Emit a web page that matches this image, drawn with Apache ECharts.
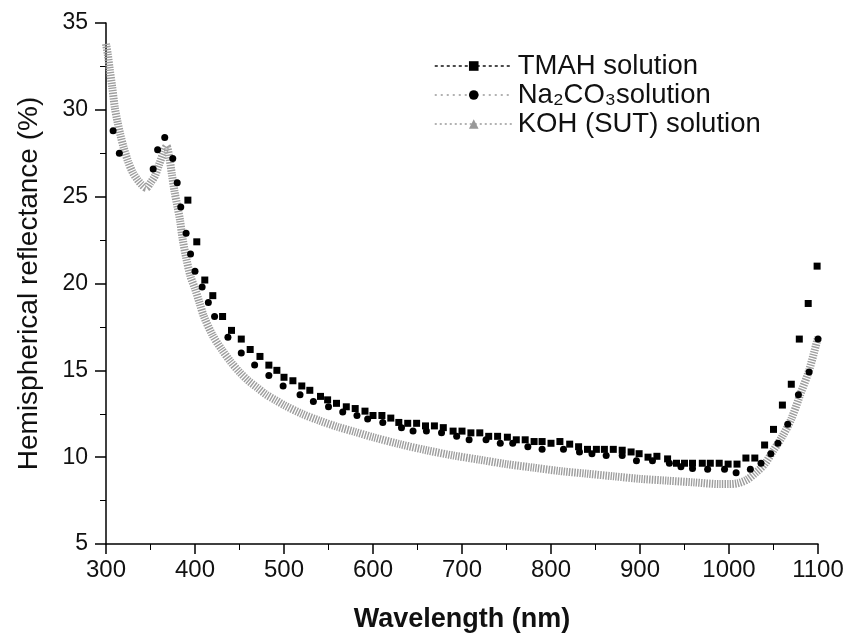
<!DOCTYPE html>
<html>
<head>
<meta charset="utf-8">
<script src="https://cdn.jsdelivr.net/npm/echarts@6/dist/echarts.min.js"></script>
<style>
  html, body { margin: 0; padding: 0; background: #fff; }
  #chart { width: 851px; height: 639px; }
</style>
</head>
<body>
<div id="chart"></div>
<script>
// Hemispherical reflectance spectra of textured wafers (wavelength in nm, reflectance in %)
const xTicks = [300, 400, 500, 600, 700, 800, 900, 1000, 1100];
const yTicks = [5, 10, 15, 20, 25, 30, 35];

// TMAH solution (black squares)
const tmahWl = [392, 402, 411, 420, 431, 441, 452, 462, 473, 483, 492, 500, 510, 520, 529, 541, 549, 559, 570, 580,
  591, 600, 610, 620, 629, 639, 649, 659, 669, 679, 690, 700, 710, 720, 730, 740, 751, 761, 771, 781,
  790, 800, 810, 821, 831, 841, 851, 860, 870, 880, 890, 899, 909, 919, 931, 941, 950, 959, 970, 979,
  989, 999, 1009, 1019, 1029, 1040, 1050, 1060, 1070, 1079, 1089, 1099];
const tmahR = [24.8, 22.4, 20.2, 19.3, 18.1, 17.3, 16.8, 16.2, 15.8, 15.3, 15.0, 14.6, 14.4, 14.1, 13.85, 13.5, 13.3, 13.1, 12.9, 12.8,
  12.65, 12.4, 12.4, 12.25, 12.0, 11.95, 11.95, 11.8, 11.8, 11.7, 11.5, 11.5, 11.4, 11.4, 11.2, 11.2, 11.15, 11.0, 11.0, 10.9,
  10.9, 10.8, 10.9, 10.75, 10.6, 10.45, 10.45, 10.45, 10.45, 10.4, 10.3, 10.2, 10.0, 10.05, 9.9, 9.65, 9.65, 9.65, 9.65, 9.65,
  9.65, 9.6, 9.6, 9.95, 9.95, 10.7, 11.6, 13.0, 14.2, 16.8, 18.85, 21.0];

// Na2CO3 solution (black circles)
const naWl = [308, 315, 353, 358, 366, 375, 380, 384, 390, 395, 400, 408, 415, 422, 437, 452, 467, 483, 499, 518,
  533, 550, 566, 582, 594, 611, 632, 645, 660, 677, 694, 708, 727, 743, 757, 774, 790, 814, 832, 846,
  862, 880, 896, 914, 933, 946, 959, 976, 995, 1008, 1024, 1036, 1047, 1055, 1066, 1078, 1090, 1100];
const naR = [28.8, 27.5, 26.6, 27.7, 28.4, 27.2, 25.8, 24.4, 22.9, 21.7, 20.7, 19.8, 18.9, 18.1, 16.9, 16.0, 15.3, 14.7, 14.1, 13.6,
  13.2, 12.9, 12.6, 12.4, 12.2, 12.0, 11.7, 11.5, 11.5, 11.4, 11.2, 11.0, 11.0, 10.8, 10.8, 10.6, 10.45, 10.45, 10.3, 10.2,
  10.1, 10.1, 9.8, 9.8, 9.65, 9.45, 9.35, 9.3, 9.3, 9.1, 9.3, 9.65, 10.2, 10.8, 11.9, 13.6, 14.9, 16.8];

// KOH (SUT) solution (dense grey triangles, drawn as a hatched band)
const kohWl = [300, 302, 304, 307, 310, 313, 316, 320, 325, 330, 335, 340, 345, 350, 355, 360, 365, 368, 371, 374,
  377, 380, 383, 386, 390, 395, 400, 405, 410, 420, 430, 440, 450, 460, 470, 480, 490, 500, 520, 540,
  560, 580, 600, 630, 660, 690, 720, 750, 780, 810, 840, 870, 900, 930, 960, 990, 1000, 1010, 1020, 1030,
  1040, 1050, 1060, 1070, 1080, 1090, 1100];
const kohR = [33.8, 33.2, 32.4, 31.3, 30.1, 29.3, 28.6, 27.8, 27.0, 26.4, 26.0, 25.7, 25.5, 25.8, 26.2, 26.9, 27.6, 27.9, 27.3, 26.3,
  25.3, 24.5, 23.7, 22.6, 21.5, 20.4, 19.7, 18.9, 18.1, 17.0, 16.2, 15.5, 14.9, 14.4, 14.0, 13.6, 13.3, 13.0, 12.5, 12.1,
  11.75, 11.45, 11.15, 10.75, 10.4, 10.1, 9.85, 9.6, 9.4, 9.2, 9.05, 8.9, 8.75, 8.65, 8.55, 8.45, 8.45, 8.5, 8.7, 9.1,
  9.6, 10.4, 11.2, 12.2, 13.6, 15.0, 16.9];

const names = ['TMAH solution', 'Na\u2082CO\u2083solution', 'KOH (SUT) solution'];

const zip = (xs, ys) => xs.map((x, i) => [x, ys[i]]);
const FONT = '"Liberation Sans", Arial, Helvetica, sans-serif';

const chart = echarts.init(document.getElementById('chart'), null, { renderer: 'canvas' });

chart.setOption({
  backgroundColor: '#ffffff',
  animation: false,
  textStyle: { fontFamily: FONT, color: '#111' },
  grid: { left: 106, right: 33, top: 23, bottom: 95, containLabel: false },
  legend: {
    orient: 'vertical',
    left: 429,
    top: 47,
    itemWidth: 78,
    itemHeight: 12,
    itemGap: 1,
    textStyle: { fontFamily: FONT, fontSize: 27.5, color: '#111' },
    data: [
      { name: names[0], lineStyle: { color: '#111', width: 1.5, type: [3, 3], opacity: 1 } },
      { name: names[1], lineStyle: { color: '#999', width: 1.5, type: [2, 4], opacity: 1 } },
      { name: names[2], lineStyle: { color: '#999', width: 1.5, type: [2, 3], opacity: 1 } }
    ]
  },
  xAxis: {
    type: 'value',
    min: 300,
    max: 1100,
    interval: 100,
    name: 'Wavelength (nm)',
    nameLocation: 'middle',
    nameGap: 62,
    nameTextStyle: { fontFamily: FONT, fontSize: 27, fontWeight: 'bold', color: '#111' },
    axisLine: { lineStyle: { color: '#000', width: 1.5 } },
    axisTick: { inside: false, length: 10, lineStyle: { color: '#000', width: 1.5 } },
    minorTick: { show: true, splitNumber: 2, length: 6, lineStyle: { color: '#000', width: 1 } },
    splitLine: { show: false },
    axisLabel: {
      fontFamily: FONT, fontSize: 24, color: '#111', margin: 14,
      customValues: xTicks,
      formatter: (v) => String(v)
    }
  },
  yAxis: {
    type: 'value',
    min: 5,
    max: 35,
    interval: 5,
    name: 'Hemispherical reflectance (%)',
    nameLocation: 'middle',
    nameGap: 63,
    nameTextStyle: { fontFamily: FONT, fontSize: 28, color: '#111' },
    axisLine: { lineStyle: { color: '#000', width: 1.5 } },
    axisTick: { inside: false, length: 11, lineStyle: { color: '#000', width: 1.5 } },
    minorTick: { show: true, splitNumber: 2, length: 6, lineStyle: { color: '#000', width: 1 } },
    splitLine: { show: false },
    axisLabel: {
      fontFamily: FONT, fontSize: 23, color: '#111', margin: 18,
      customValues: yTicks,
      formatter: (v) => String(v)
    }
  },
  series: [
    {
      name: names[2],
      type: 'line',
      data: zip(kohWl, kohR),
      symbol: 'triangle',
      symbolSize: 9,
      showSymbol: false,
      smooth: 0.3,
      itemStyle: { color: '#999' },
      lineStyle: { color: '#9e9e9e', width: 8, type: [1.4, 1.2] },
      z: 2
    },
    {
      name: names[0],
      type: 'line',
      data: zip(tmahWl, tmahR),
      symbol: 'rect',
      symbolSize: 7,
      itemStyle: { color: '#000' },
      lineStyle: { width: 0, opacity: 0 },
      z: 3
    },
    {
      name: names[1],
      type: 'line',
      data: zip(naWl, naR),
      symbol: 'circle',
      symbolSize: 7,
      itemStyle: { color: '#000' },
      lineStyle: { width: 0, opacity: 0 },
      z: 4
    }
  ]
});
</script>
</body>
</html>
